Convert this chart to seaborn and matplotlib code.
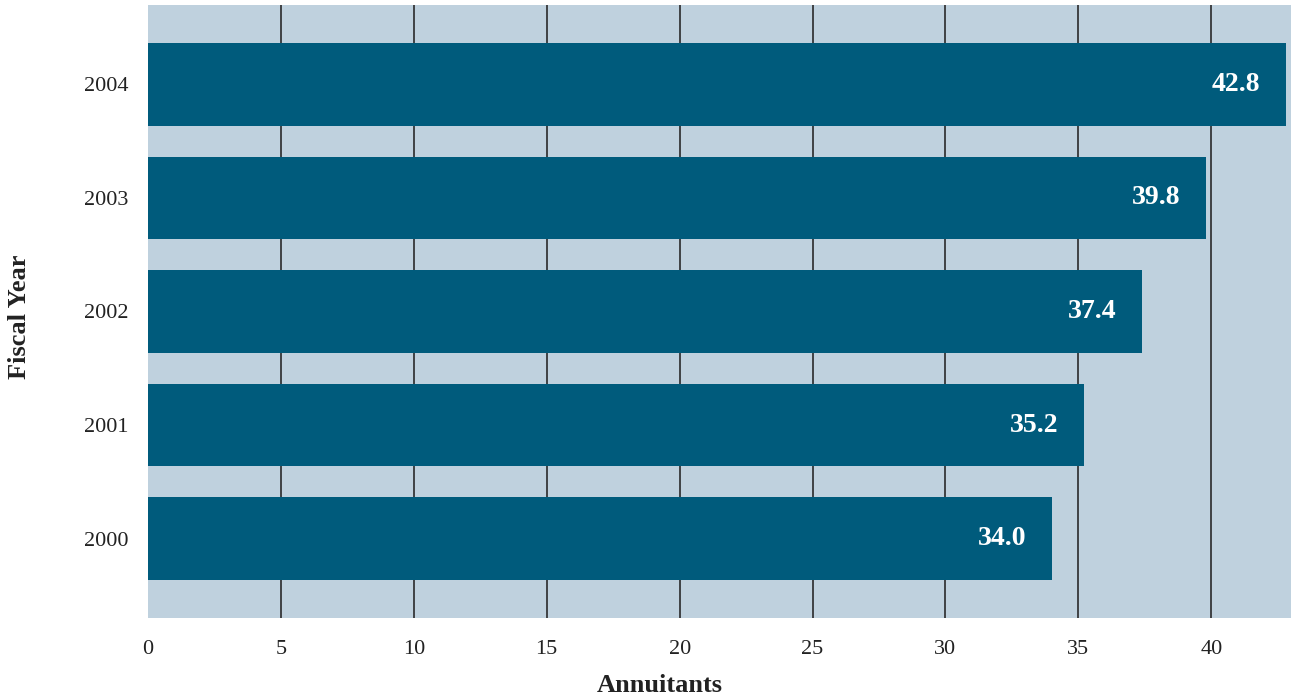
import matplotlib
matplotlib.use("Agg")
import matplotlib.pyplot as plt
import seaborn as sns
import pandas as pd

years = ["2004", "2003", "2002", "2001", "2000"]
annuitants = [42.8, 39.8, 37.4, 35.2, 34.0]
x_ticks = [0, 5, 10, 15, 20, 25, 30, 35, 40]

df = pd.DataFrame({"year": years, "value": annuitants})

sns.set_theme(style="white")
plt.rcParams["font.family"] = ["Liberation Serif", "DejaVu Serif"]

W, H = 1291, 700
fig = plt.figure(figsize=(W / 100, H / 100), dpi=100)
ax = fig.add_axes([148 / W, (700 - 618) / H, (1291 - 148) / W, (618 - 5) / H])
ax.set_facecolor("#bfd1de")

sns.barplot(data=df, x="value", y="year", order=years, orient="h",
            color="#005b7c", saturation=1, width=0.73, linewidth=0,
            ax=ax, zorder=3)

ax.set_xlim(0, 43.0)
ax.set_ylim(4.7, -0.7)
ax.set_xticks(x_ticks)
ax.set_xticklabels([str(t) for t in x_ticks], fontsize=16, color="#222222")
ax.tick_params(axis="x", length=0, pad=16)
ax.tick_params(axis="y", length=0, pad=14, labelsize=16, labelcolor="#222222")
for lbl in ax.get_yticklabels():
    lbl.set_fontsize(16)

for t in x_ticks[1:]:
    ax.axvline(t, color="#2a2a2a", lw=1.2, zorder=1)

for s in ax.spines.values():
    s.set_visible(False)

for i, v in enumerate(annuitants):
    ax.text(v - 0.95, i, f"{v:.1f}", ha="right", va="center", color="white",
            fontsize=20, fontweight="bold", zorder=4)

ax.set_xlabel("Annuitants", fontsize=19, fontweight="bold", color="#222222")
ax.xaxis.set_label_coords((660 - 148) / (1291 - 148), -(686 - 618) / (618 - 5))
ax.set_ylabel("Fiscal Year", fontsize=19, fontweight="bold", color="#222222")
ax.yaxis.set_label_coords(-(148 - 20) / (1291 - 148), (618 - 317) / (618 - 5))
ax.xaxis.label.set_va("center")
ax.yaxis.label.set_va("center")

fig.savefig("out.png", dpi=100)
